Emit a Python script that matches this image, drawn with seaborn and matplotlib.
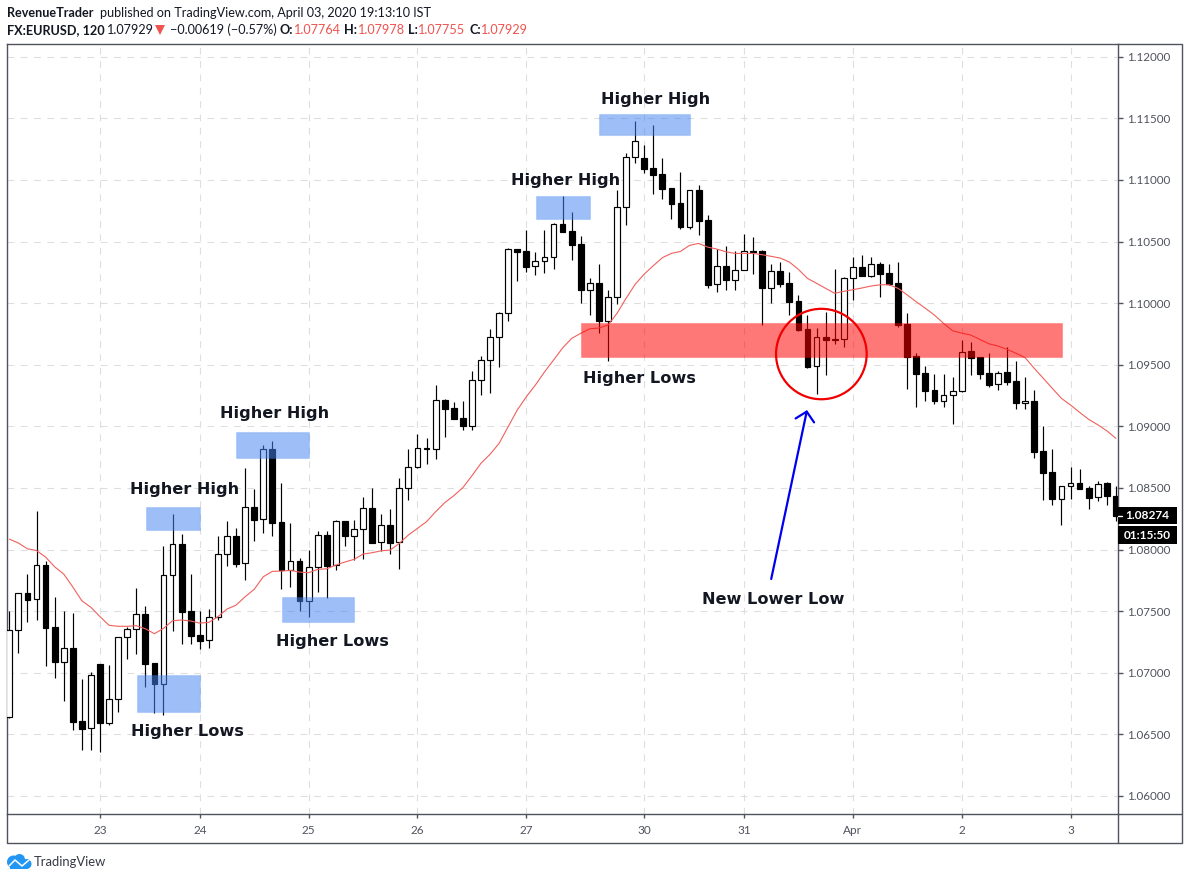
# EUR/USD 2h candles with higher high / higher low zones
import matplotlib
matplotlib.use("Agg")
import matplotlib.pyplot as plt
from matplotlib.colors import to_rgba
from matplotlib.patches import Rectangle, Ellipse, Circle, Polygon
import pandas as pd
import seaborn as sns

# --------------------------------------------------------------
# Data
# --------------------------------------------------------------
opens = [1.06638, 1.07344, 1.07644, 1.07596, 1.07872, 1.07368, 1.07089, 1.07198, 1.06605, 1.06549,
         1.07068, 1.06589, 1.06784, 1.07292, 1.07352, 1.07474, 1.07076, 1.06911, 1.07791, 1.08042,
         1.07498, 1.07304, 1.07263, 1.07450, 1.07961, 1.08107, 1.07888, 1.08343, 1.08245, 1.08813,
         1.08221, 1.07836, 1.07904, 1.07584, 1.07860, 1.08115, 1.07872, 1.08229, 1.08112, 1.08164,
         1.08334, 1.08058, 1.08196, 1.08058, 1.08497, 1.08667, 1.08813, 1.08813, 1.09211, 1.09146,
         1.09065, 1.09005, 1.09373, 1.09536, 1.09722, 1.09917, 1.10437, 1.10420, 1.10299, 1.10344,
         1.10372, 1.10640, 1.10583, 1.10477, 1.10109, 1.10161, 1.09857, 1.10052, 1.10783, 1.11183,
         1.11175, 1.11094, 1.11045, 1.10932, 1.10810, 1.10620, 1.10916, 1.10672, 1.10153, 1.10299,
         1.10190, 1.10266, 1.10425, 1.10423, 1.10125, 1.10258, 1.10161, 1.10017, 1.09790, 1.09487,
         1.09722, 1.09703, 1.09706, 1.10201, 1.10291, 1.10222, 1.10315, 1.10242, 1.10161, 1.09830,
         1.09571, 1.09430, 1.09295, 1.09208, 1.09252, 1.09289, 1.09609, 1.09560, 1.09430, 1.09341,
         1.09438, 1.09365, 1.09187, 1.09203, 1.08797, 1.08627, 1.08412, 1.08513, 1.08542, 1.08497,
         1.08424, 1.08537, 1.08437]
highs = [1.07501, 1.07647, 1.07801, 1.08310, 1.07904, 1.07612, 1.07501, 1.07485, 1.06946, 1.07006,
         1.07068, 1.07060, 1.07292, 1.07373, 1.07685, 1.07541, 1.07076, 1.08028, 1.08286, 1.08123,
         1.07801, 1.07501, 1.07515, 1.08110, 1.08229, 1.08172, 1.08659, 1.08491, 1.08848, 1.08878,
         1.08537, 1.08213, 1.07929, 1.07996, 1.08150, 1.08150, 1.08239, 1.08229, 1.08239, 1.08424,
         1.08497, 1.08288, 1.08329, 1.08578, 1.08813, 1.08937, 1.08905, 1.09335, 1.09219, 1.09195,
         1.09205, 1.09446, 1.09571, 1.09787, 1.09930, 1.10445, 1.10437, 1.10593, 1.10412, 1.10593,
         1.10648, 1.10867, 1.10739, 1.10545, 1.10201, 1.10317, 1.10106, 1.10918, 1.11216, 1.11476,
         1.11283, 1.11446, 1.11175, 1.10932, 1.11062, 1.10916, 1.10959, 1.10713, 1.10437, 1.10463,
         1.10423, 1.10558, 1.10534, 1.10429, 1.10317, 1.10334, 1.10250, 1.10066, 1.09903, 1.09798,
         1.09930, 1.10274, 1.10214, 1.10372, 1.10390, 1.10372, 1.10331, 1.10315, 1.10334, 1.09920,
         1.09595, 1.09489, 1.09425, 1.09425, 1.09398, 1.09700, 1.09684, 1.09560, 1.09593, 1.09451,
         1.09641, 1.09528, 1.09398, 1.09295, 1.09002, 1.08816, 1.08513, 1.08670, 1.08653, 1.08513,
         1.08554, 1.08545, 1.08513]
lows = [1.06630, 1.07162, 1.07414, 1.07428, 1.07057, 1.06959, 1.06773, 1.06535, 1.06373, 1.06373,
        1.06359, 1.06575, 1.06683, 1.07111, 1.07152, 1.06886, 1.06670, 1.06659, 1.07341, 1.07235,
        1.07235, 1.07195, 1.07200, 1.07430, 1.07868, 1.07860, 1.07752, 1.08071, 1.08136, 1.08112,
        1.07682, 1.07698, 1.07503, 1.07455, 1.07657, 1.07604, 1.07834, 1.08031, 1.07915, 1.07923,
        1.08050, 1.07990, 1.07963, 1.07842, 1.08402, 1.08659, 1.08694, 1.08735, 1.08916, 1.09062,
        1.08970, 1.08970, 1.09256, 1.09273, 1.09484, 1.09857, 1.10179, 1.10252, 1.10228, 1.10247,
        1.10279, 1.10580, 1.10350, 1.10003, 1.09903, 1.09760, 1.09532, 1.09993, 1.10634, 1.11140,
        1.11058, 1.10886, 1.10847, 1.10683, 1.10604, 1.10604, 1.10553, 1.10125, 1.10090, 1.10106,
        1.10106, 1.10266, 1.10236, 1.09825, 1.10003, 1.10133, 1.09903, 1.09776, 1.09476, 1.09262,
        1.09419, 1.09670, 1.09646, 1.10025, 1.10222, 1.10214, 1.10052, 1.10147, 1.09808, 1.09305,
        1.09159, 1.09205, 1.09181, 1.09157, 1.09019, 1.09281, 1.09416, 1.09386, 1.09321, 1.09297,
        1.09338, 1.09143, 1.09143, 1.08745, 1.08404, 1.08364, 1.08201, 1.08410, 1.08493, 1.08329,
        1.08394, 1.08361, 1.08231]
closes = [1.07344, 1.07644, 1.07592, 1.07872, 1.07365, 1.07089, 1.07198, 1.06602, 1.06545, 1.06979,
          1.06589, 1.06784, 1.07292, 1.07352, 1.07474, 1.07073, 1.06911, 1.07791, 1.08042, 1.07495,
          1.07300, 1.07260, 1.07450, 1.07961, 1.08107, 1.07885, 1.08343, 1.08242, 1.08813, 1.08218,
          1.07836, 1.07904, 1.07584, 1.07860, 1.08115, 1.07868, 1.08229, 1.08112, 1.08164, 1.08334,
          1.08055, 1.08196, 1.08055, 1.08497, 1.08667, 1.08821, 1.08821, 1.09211, 1.09143, 1.09062,
          1.09005, 1.09373, 1.09536, 1.09722, 1.09917, 1.10437, 1.10415, 1.10295, 1.10344, 1.10372,
          1.10640, 1.10580, 1.10474, 1.10109, 1.10161, 1.09857, 1.10052, 1.10783, 1.11183, 1.11318,
          1.11091, 1.11042, 1.10926, 1.10807, 1.10618, 1.10916, 1.10669, 1.10149, 1.10299, 1.10190,
          1.10266, 1.10425, 1.10417, 1.10125, 1.10258, 1.10157, 1.10011, 1.09779, 1.09484, 1.09722,
          1.09703, 1.09709, 1.10201, 1.10291, 1.10222, 1.10315, 1.10239, 1.10157, 1.09825, 1.09563,
          1.09427, 1.09287, 1.09205, 1.09252, 1.09289, 1.09606, 1.09557, 1.09427, 1.09335, 1.09435,
          1.09362, 1.09187, 1.09203, 1.08794, 1.08623, 1.08412, 1.08513, 1.08542, 1.08493, 1.08420,
          1.08534, 1.08437, 1.08274]
moving_avg = [1.08085, 1.08053, 1.08006, 1.07992, 1.07939, 1.07860, 1.07801, 1.07696, 1.07584, 1.07531,
              1.07455, 1.07385, 1.07377, 1.07377, 1.07382, 1.07357, 1.07317, 1.07360, 1.07422, 1.07428,
              1.07420, 1.07403, 1.07409, 1.07455, 1.07517, 1.07549, 1.07617, 1.07677, 1.07779, 1.07823,
              1.07825, 1.07831, 1.07817, 1.07812, 1.07839, 1.07844, 1.07874, 1.07899, 1.07920, 1.07963,
              1.07974, 1.07990, 1.07996, 1.08050, 1.08118, 1.08172, 1.08226, 1.08307, 1.08380, 1.08437,
              1.08502, 1.08599, 1.08700, 1.08773, 1.08862, 1.08997, 1.09132, 1.09240, 1.09335, 1.09441,
              1.09538, 1.09636, 1.09714, 1.09755, 1.09792, 1.09798, 1.09822, 1.09917, 1.10039, 1.10153,
              1.10236, 1.10304, 1.10369, 1.10404, 1.10420, 1.10469, 1.10485, 1.10455, 1.10439, 1.10417,
              1.10404, 1.10404, 1.10404, 1.10393, 1.10380, 1.10366, 1.10334, 1.10274, 1.10201, 1.10161,
              1.10120, 1.10080, 1.10096, 1.10109, 1.10123, 1.10139, 1.10149, 1.10149, 1.10120, 1.10066,
              1.10011, 1.09958, 1.09903, 1.09836, 1.09776, 1.09757, 1.09741, 1.09706, 1.09670, 1.09652,
              1.09625, 1.09593, 1.09557, 1.09471, 1.09390, 1.09308, 1.09227, 1.09173, 1.09114, 1.09057,
              1.09013, 1.08964, 1.08903]

day_ticks = [10, 21, 33, 45, 57, 70, 81, 93, 105, 117]
day_labels = ["23", "24", "25", "26", "27", "30", "31", "Apr", "2", "3"]
price_ticks = [1.06, 1.065, 1.07, 1.075, 1.08, 1.085, 1.09, 1.095, 1.10, 1.105, 1.11, 1.115, 1.12]

df = pd.DataFrame({"idx": range(len(opens)), "open": opens, "high": highs,
                   "low": lows, "close": closes, "ma": moving_avg})
df["up"] = df["close"] >= df["open"]
df["body_low"] = df[["open", "close"]].min(axis=1)
df["body_high"] = df[["open", "close"]].max(axis=1)

# --------------------------------------------------------------
# Figure and axes
# --------------------------------------------------------------
sns.set_theme(style="white")
plt.rcParams["font.family"] = ["Lato", "DejaVu Sans"]

FRAME = "#50535E"
W, H = 1188, 880
fig = plt.figure(figsize=(W / 100, H / 100), dpi=100, facecolor="white")
ax = fig.add_axes([6.5 / W, (H - 814.3) / H, 1111 / W, 770.6 / H])

# wicks and bodies
ax.vlines(df["idx"], df["low"], df["high"], color="black", lw=0.85, zorder=2.5)
ax.bar(df["idx"], df["body_high"] - df["body_low"], bottom=df["body_low"], width=0.64,
       color=["white" if u else "black" for u in df["up"]], edgecolor="black", lw=0.85, zorder=3)

sns.lineplot(data=df, x="idx", y="ma", ax=ax, color="#F0605C", lw=0.8, estimator=None, zorder=4)

ax.set_xlim(-0.309, 122.18)
ax.set_ylim(1.05851, 1.12106)
ax.set_xlabel("")
ax.set_ylabel("")
ax.set_xticks(day_ticks)
ax.set_xticklabels(day_labels)
ax.set_yticks(price_ticks)
ax.set_yticklabels([f"{p:.5f}" for p in price_ticks])
ax.yaxis.tick_right()
ax.tick_params(axis="x", length=3, width=1, color=FRAME, labelcolor=FRAME, labelsize=8.5, pad=5, bottom=True)
ax.tick_params(axis="y", length=3.6, width=1, color=FRAME, labelcolor=FRAME, labelsize=8.4, pad=3, right=True)
ax.grid(True, color="#DEDEDE", lw=0.8, linestyle=(0, (6, 6)))
ax.set_axisbelow(True)
for s in ax.spines.values():
    s.set_color(FRAME)
    s.set_linewidth(1.0)

# --------------------------------------------------------------
# Zones, circle, arrow and notes
# --------------------------------------------------------------
blue_zones = [(15.07, 1.08156, 5.99, 0.00187),
              (25.03, 1.08745, 8.01, 0.00209),
              (14.05, 1.06683, 7.01, 0.00296),
              (30.03, 1.07414, 8.01, 0.00203),
              (58.04, 1.10680, 5.98, 0.00187),
              (65.05, 1.11362, 10.0, 0.00175)]
for x0, y0, w, h in blue_zones:
    ax.add_patch(Rectangle((x0, y0), w, h, facecolor=to_rgba("#4684F1", 0.53),
                           edgecolor=to_rgba("#4684F1", 0.2), lw=0.8, zorder=5))
ax.add_patch(Rectangle((63.03, 1.09560), 53.0, 0.00276, facecolor=to_rgba("#FF0000", 0.53),
                       edgecolor=to_rgba("#FF0000", 0.2), lw=0.8, zorder=5))

ax.add_patch(Ellipse((89.53, 1.09587), 9.99, 0.00734, fill=False, edgecolor="#F00000", lw=1.6, zorder=6))
ax.annotate("", xy=(87.95, 1.09132), xytext=(84.0, 1.07761), zorder=6,
            arrowprops=dict(arrowstyle="->,head_length=0.65,head_width=0.68", color="#0000F0",
                            lw=1.6, shrinkA=0, shrinkB=0, mutation_scale=10))

notes = [("Higher High", 19.3, 1.08491), ("Higher High", 29.3, 1.09108),
         ("Higher High", 61.3, 1.10995), ("Higher High", 71.2, 1.11657),
         ("Higher Lows", 19.6, 1.06527), ("Higher Lows", 35.6, 1.07252),
         ("Higher Lows", 69.5, 1.09385), ("New Lower Low", 84.2, 1.07598)]
for label, x, y in notes:
    ax.text(x, y, label, ha="center", va="center", fontsize=11.6, fontweight="bold",
            family="DejaVu Sans", color="#131722", zorder=7)

# --------------------------------------------------------------
# Page furniture drawn in pixel coordinates
# --------------------------------------------------------------
fg = fig.add_axes([0, 0, 1, 1], facecolor="none")
fg.set_xlim(0, W)
fg.set_ylim(H, 0)
fg.axis("off")

# frame round the scales
fg.plot([6.5, 6.5, 1181.5, 1181.5, 1117.5], [814, 843.5, 843.5, 43.7, 43.7], color=FRAME, lw=1.0)
fg.plot([1117.5, 1117.5], [814, 843.5], color=FRAME, lw=1.0)
fg.plot([1117.5, 1181.5], [814.3, 814.3], color=FRAME, lw=1.0)

# last price and countdown tags
fg.add_patch(Rectangle((1117.5, 506.7), 59.5, 17.6, facecolor="black", edgecolor="none"))
fg.add_patch(Rectangle((1117.5, 526), 59.5, 18.3, facecolor="black", edgecolor="none"))
fg.plot([1117.5, 1122], [515.6, 515.6], color="white", lw=1.0)
fg.text(1147, 515.4, "1.08274", color="white", fontsize=8.6, fontweight="bold", ha="center", va="center")
fg.text(1147, 535.4, "01:15:50", color="white", fontsize=8.6, fontweight="bold", ha="center", va="center")

# header
INK = "#131722"
RED = "#EF5350"
header = [("RevenueTrader", 7, 13, INK, "bold"),
          ("published on TradingView.com, April 03, 2020 19:13:10 IST", 100.5, 13, INK, "normal"),
          ("FX:EURUSD, 120", 7, 30, INK, "bold"),
          ("1.07929", 107, 30, INK, "normal"),
          ("−0.00619 (−0.57%)", 170, 30, INK, "normal"),
          ("O:", 279, 30, INK, "bold"), ("1.07764", 294, 30, RED, "normal"),
          ("H:", 344, 30, INK, "bold"), ("1.07978", 358, 30, RED, "normal"),
          ("L:", 408, 30, INK, "bold"), ("1.07755", 418, 30, RED, "normal"),
          ("C:", 469, 30, INK, "bold"), ("1.07929", 481, 30, RED, "normal")]
for label, x, y, c, weight in header:
    fg.text(x, y, label, color=c, fontsize=9.1, fontweight=weight, ha="left", va="center")
fg.add_patch(Polygon([(155, 25), (165, 25), (160, 35)], facecolor=RED, edgecolor="none"))

# TradingView logo
LOGO = "#2196F3"
fg.add_patch(Circle((13.5, 862), 6.5, facecolor=LOGO, edgecolor="none"))
fg.add_patch(Circle((19.5, 859.5), 5.5, facecolor=LOGO, edgecolor="none"))
fg.add_patch(Circle((26.5, 864), 5.0, facecolor=LOGO, edgecolor="none"))
fg.add_patch(Rectangle((10, 862), 18, 6.8, facecolor=LOGO, edgecolor="none"))
fg.plot([9, 15, 22, 29], [866, 860, 866, 860], color="white", lw=1.1)
fg.text(34, 862, "TradingView", color="#363A45", fontsize=9.4, ha="left", va="center")

fig.savefig("out.png", dpi=100)
